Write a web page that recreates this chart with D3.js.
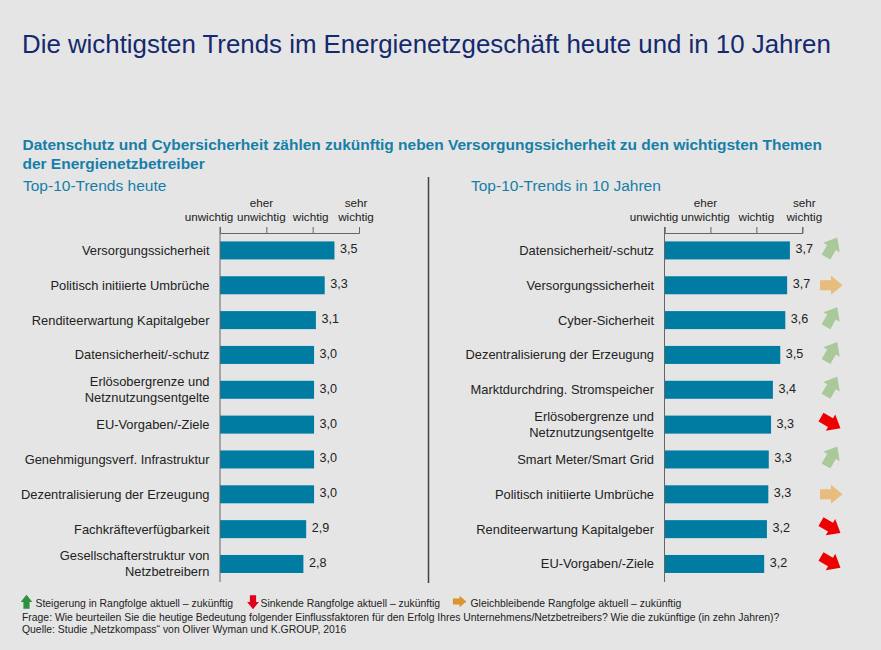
<!DOCTYPE html>
<html>
<head>
<meta charset="utf-8">
<script src="https://cdn.jsdelivr.net/npm/d3@7"></script>
<style>
  html, body { margin: 0; padding: 0; background: #e5e5e5; }
  text { font-family: "Liberation Sans", Arial, sans-serif; }
</style>
</head>
<body>
<div id="chart"></div>
<script>
// Daten
const trendsHeute = ["Versorgungssicherheit", "Politisch initiierte Umbrüche", "Renditeerwartung Kapitalgeber",
  "Datensicherheit/-schutz", "Erlösobergrenze und\nNetznutzungsentgelte", "EU-Vorgaben/-Ziele",
  "Genehmigungsverf. Infrastruktur", "Dezentralisierung der Erzeugung", "Fachkräfteverfügbarkeit",
  "Gesellschafterstruktur von\nNetzbetreibern"];
const werteHeute = [3.47, 3.26, 3.07, 3.03, 3.03, 3.03, 3.03, 3.03, 2.86, 2.80];

const trendsZukunft = ["Datensicherheit/-schutz", "Versorgungssicherheit", "Cyber-Sicherheit",
  "Dezentralisierung der Erzeugung", "Marktdurchdring. Stromspeicher", "Erlösobergrenze und\nNetznutzungsentgelte",
  "Smart Meter/Smart Grid", "Politisch initiierte Umbrüche", "Renditeerwartung Kapitalgeber", "EU-Vorgaben/-Ziele"];
const werteZukunft = [3.73, 3.67, 3.63, 3.52, 3.36, 3.32, 3.27, 3.26, 3.23, 3.17];
const richtungZukunft = ["up", "flat", "up", "up", "up", "down", "up", "flat", "down", "down"];

const skalaWerte = [1, 2, 3, 4];
const skalaLabels = ["unwichtig", "eher\nunwichtig", "wichtig", "sehr\nwichtig"];

const legende = ["Steigerung in Rangfolge aktuell – zukünftig", "Sinkende Rangfolge aktuell – zukünftig",
  "Gleichbleibende Rangfolge aktuell – zukünftig"];

const width = 881;
const height = 650;
const blau = "#007ca3";
const tuerkis = "#167fa8";

const svg = d3.select("#chart").append("svg")
  .attr("width", width)
  .attr("height", height)
  .style("display", "block");

svg.append("rect").attr("width", width).attr("height", height).attr("fill", "#e5e5e5");

// Titel
svg.append("text").attr("x", 22).attr("y", 53)
  .attr("font-size", 25.85).attr("fill", "#14296e")
  .text("Die wichtigsten Trends im Energienetzgeschäft heute und in 10 Jahren");

svg.append("text").attr("x", 22.5).attr("y", 150)
  .attr("font-size", 15.48).attr("font-weight", "bold").attr("fill", tuerkis)
  .text("Datenschutz und Cybersicherheit zählen zukünftig neben Versorgungssicherheit zu den wichtigsten Themen");
svg.append("text").attr("x", 22.5).attr("y", 168.5)
  .attr("font-size", 15.48).attr("font-weight", "bold").attr("fill", tuerkis)
  .text("der Energienetzbetreiber");

// Trennlinie zwischen den Panels
svg.append("line").attr("x1", 428.5).attr("x2", 428.5).attr("y1", 177).attr("y2", 583)
  .attr("stroke", "#444").attr("stroke-width", 1.5);

const yScale = d3.scaleBand()
  .domain(d3.range(10))
  .range([233, 581.4])
  .paddingInner(0.483)
  .paddingOuter(0.2415);

// Zeichnet ein Panel (Überschrift, Skala, Balken)
function panel(cfg) {
  const xScale = d3.scaleLinear().domain([1, 4]).range(cfg.range);
  const g = svg.append("g");

  g.append("text").attr("x", cfg.titelX).attr("y", 191)
    .attr("font-size", 15.5).attr("fill", tuerkis).text(cfg.titel);

  g.append("g")
    .attr("transform", "translate(0,233)")
    .call(d3.axisTop(xScale).tickValues(skalaWerte).tickSize(6).tickFormat(""))
    .call(a => a.selectAll("path, line").attr("stroke", "#666").attr("stroke-width", 1));

  // Skalenbeschriftung, zweizeilig von unten nach oben
  skalaLabels.forEach((label, i) => {
    const zeilen = label.split("\n");
    zeilen.forEach((z, k) => {
      g.append("text")
        .attr("x", xScale(skalaWerte[i]) + cfg.skalaDx[i])
        .attr("y", 221 - (zeilen.length - 1 - k) * 14.5)
        .attr("text-anchor", "middle")
        .attr("font-size", 11.7)
        .attr("fill", "#222")
        .text(z);
    });
  });

  g.selectAll(".bar").data(cfg.werte).enter().append("rect")
    .attr("class", "bar")
    .attr("x", xScale(1))
    .attr("y", (d, i) => yScale(i))
    .attr("width", d => xScale(d) - xScale(1))
    .attr("height", yScale.bandwidth())
    .attr("fill", blau);

  g.append("line").attr("x1", xScale(1)).attr("x2", xScale(1)).attr("y1", 227).attr("y2", 582)
    .attr("stroke", "#666").attr("stroke-width", 1);

  g.selectAll(".wert").data(cfg.werte).enter().append("text")
    .attr("class", "wert")
    .attr("x", d => xScale(d) + 5.5)
    .attr("y", (d, i) => yScale(i) + yScale.bandwidth() / 2 + 3)
    .attr("font-size", 12.6)
    .attr("fill", "#222")
    .text(d => d.toFixed(1).replace(".", ","));

  cfg.trends.forEach((t, i) => {
    const zeilen = t.split("\n");
    const mitte = yScale(i) + yScale.bandwidth() / 2;
    zeilen.forEach((z, k) => {
      g.append("text")
        .attr("x", cfg.range[0] - 10.5)
        .attr("y", mitte + 4.5 + (k - (zeilen.length - 1) / 2) * 16)
        .attr("text-anchor", "end")
        .attr("font-size", 12.9)
        .attr("fill", "#222")
        .text(z);
    });
  });

  return xScale;
}

panel({ titel: "Top-10-Trends heute", titelX: 23, range: [220, 359], werte: werteHeute, trends: trendsHeute,
  skalaDx: [-11, -5, -2, -3] });
panel({ titel: "Top-10-Trends in 10 Jahren", titelX: 471, range: [664.5, 802.3], werte: werteZukunft, trends: trendsZukunft,
  skalaDx: [-10.5, -5, 0, 2] });

// Pfeil nach rechts, wird je nach Richtung gedreht
const pfeil = "M-11,-5H0V-9.5L11.5,0L0,9.5V5H-11Z";
const pfeilStil = {
  up: { winkel: -60, farbe: "#a9c99a", dy: -3, dx: 0.5 },
  flat: { winkel: 0, farbe: "#e8bc7c", dy: 0, dx: 0 },
  down: { winkel: 30, farbe: "#ee0000", dy: -2, dx: -0.5 }
};
svg.selectAll(".pfeil").data(richtungZukunft).enter().append("path")
  .attr("class", "pfeil")
  .attr("d", pfeil)
  .attr("fill", d => pfeilStil[d].farbe)
  .attr("transform", (d, i) => `translate(${831 + pfeilStil[d].dx},${yScale(i) + yScale.bandwidth() / 2 + pfeilStil[d].dy}) rotate(${pfeilStil[d].winkel})`);

// Legende und Fussnoten
const legendeX = [35.5, 260.5, 470.5];
const legendeFarben = ["#2f9140", "#e2001a", "#d9952f"];
const legendeWinkel = [-90, 90, 0];
const legendeSymbolX = [26.5, 253, 459.5];
legende.forEach((t, i) => {
  svg.append("path").attr("d", pfeil)
    .attr("fill", legendeFarben[i])
    .attr("transform", `translate(${legendeSymbolX[i]},${i === 2 ? 601.5 : 602}) rotate(${legendeWinkel[i]}) scale(${i === 2 ? 0.6 : 0.62})`);
  svg.append("text").attr("x", legendeX[i]).attr("y", 607)
    .attr("font-size", 10.4).attr("fill", "#222").text(t);
});
svg.append("text").attr("x", 22).attr("y", 621)
  .attr("font-size", 10.4).attr("fill", "#222")
  .text("Frage: Wie beurteilen Sie die heutige Bedeutung folgender Einflussfaktoren für den Erfolg Ihres Unternehmens/Netzbetreibers? Wie die zukünftige (in zehn Jahren)?");
svg.append("text").attr("x", 22).attr("y", 633)
  .attr("font-size", 10.4).attr("fill", "#222")
  .text("Quelle: Studie „Netzkompass“ von Oliver Wyman und K.GROUP, 2016");
</script>
</body>
</html>
